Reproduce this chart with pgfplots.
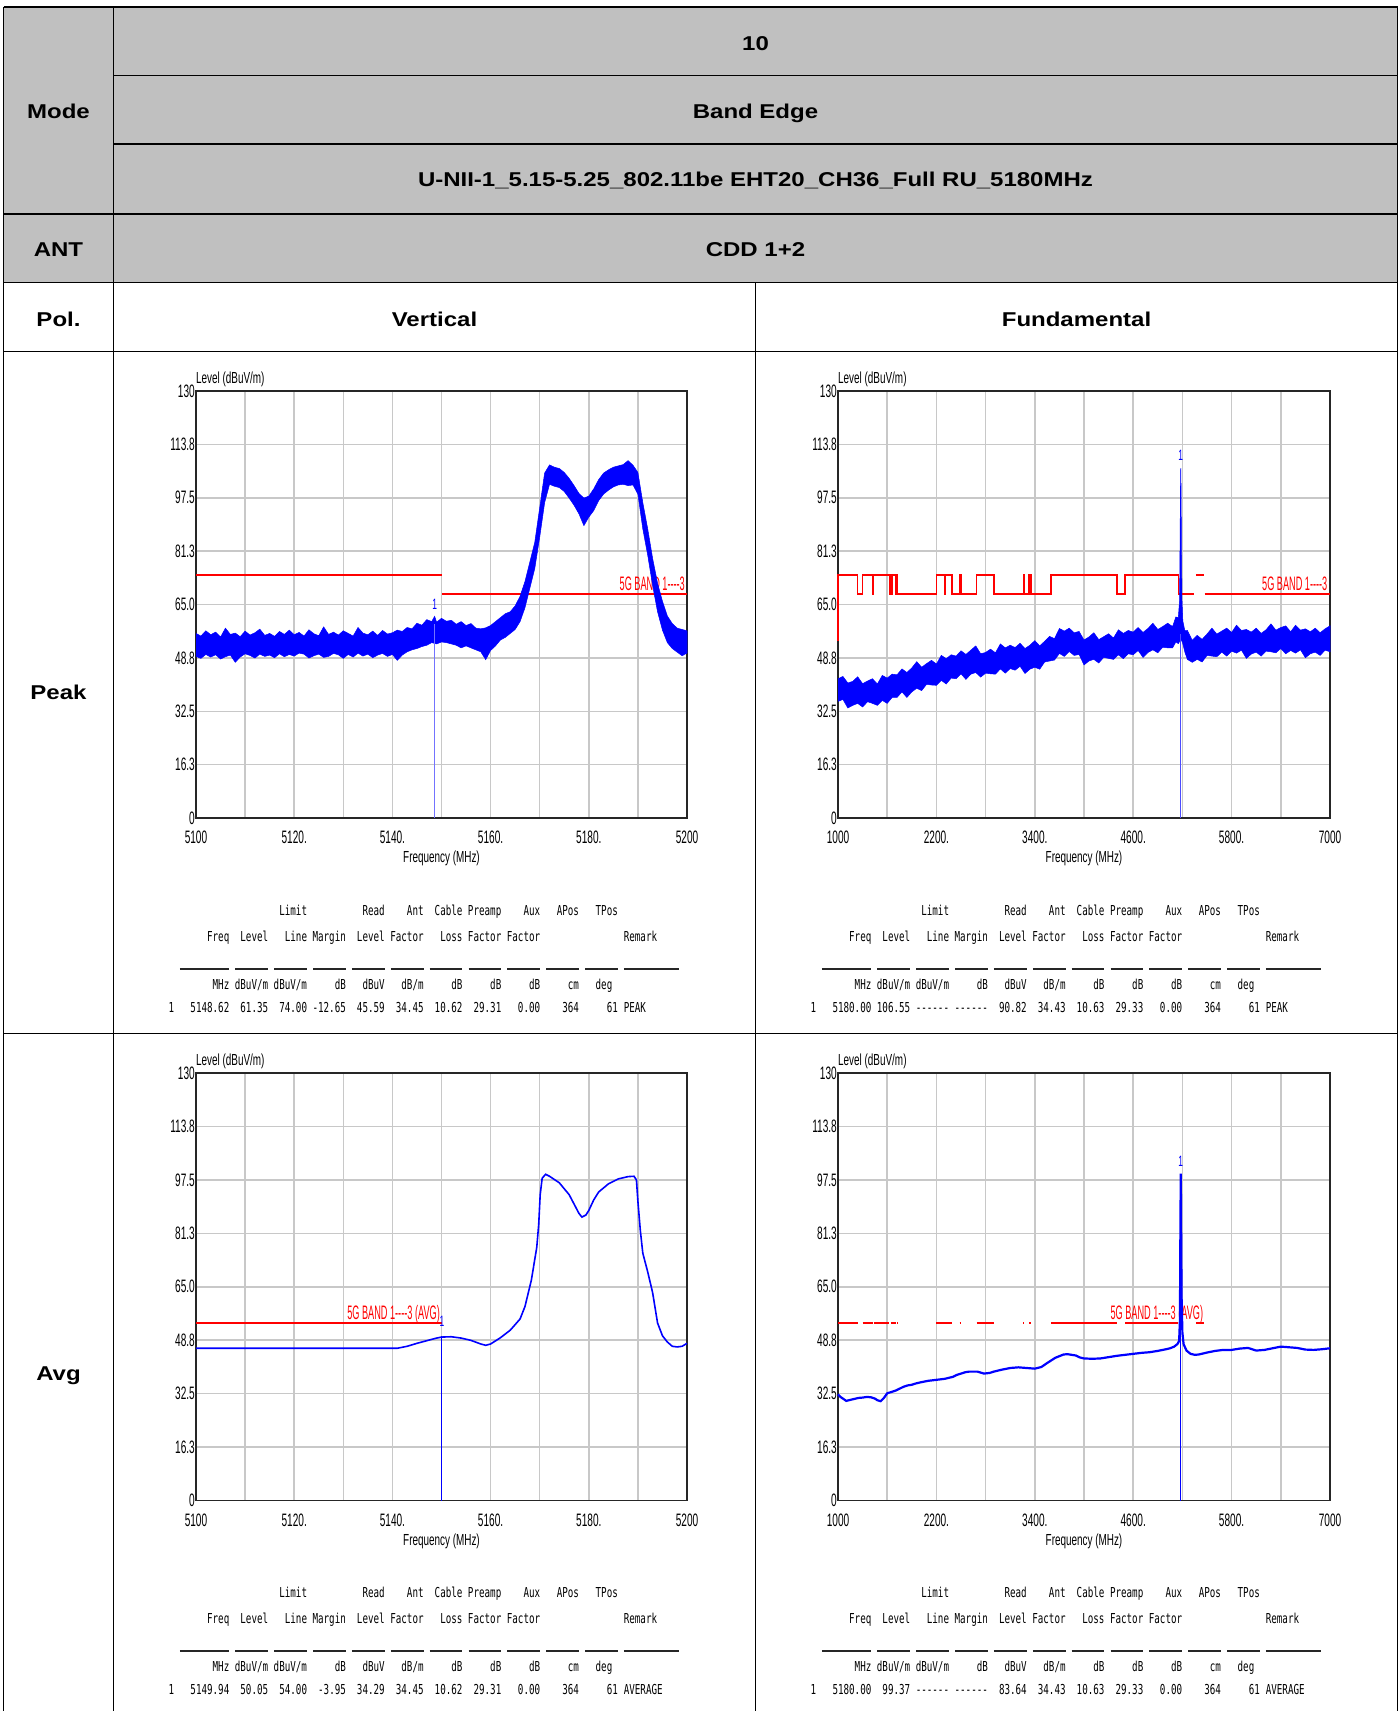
\documentclass[border=0pt]{standalone}
\usepackage{fontspec}
\setmainfont{Liberation Sans}[Ligatures=TeXOff]
\usepackage{pgfplots}
\pgfplotsset{compat=1.18}
\newfontfamily\hdrfont{Liberation Sans}[FakeStretch=1.2,Ligatures=TeXOff]
\newfontfamily\tickfont{Liberation Sans}[FakeStretch=0.56,Ligatures=TeXOff]
\newfontfamily\labfont{Liberation Sans}[FakeStretch=0.62,Ligatures=TeXOff]
\newfontfamily\redfont{Liberation Sans}[FakeStretch=0.47,Ligatures=TeXOff]
\newfontfamily\tabfont{DejaVu Sans Mono}[FakeStretch=0.673,Ligatures=TeXOff]
\definecolor{hdrgray}{RGB}{192,192,192}
\definecolor{gridgray}{RGB}{200,200,200}
\newcommand{\hdrfs}{\hdrfont\bfseries\fontsize{20}{22}\selectfont}
\newcommand{\tickfs}{\tickfont\fontsize{18}{18}\selectfont}
\newcommand{\labfs}{\labfont\fontsize{16}{16}\selectfont}
\newcommand{\redfs}{\redfont\fontsize{19.5}{20}\selectfont}
\newcommand{\tabfs}{\tabfont\fontsize{13.7}{14}\selectfont}
\newcommand{\mkfs}{\tickfont\fontsize{15}{15}\selectfont}
% table text helpers (inside scope with x=1pt,y=-1pt)
\newcommand{\R}[4]{\node[anchor=base east,inner sep=0pt,font=\tabfs] at ({#1+#2*5.55},{#3}) {#4};}
\newcommand{\Lf}[4]{\node[anchor=base west,inner sep=0pt,font=\tabfs] at ({#1+#2*5.55},{#3}) {#4};}
\newcommand{\datahead}[2]{%
  \foreach \e/\t in {25/Limit,39/Read,46/Ant,53/Cable,60/Preamp,67/Aux,74/APos,81/TPos}{\R{#1}{\e}{915.5+#2}{\t}}
  \foreach \e/\t in {11/Freq,18/Level,25/Line,32/Margin,39/Level,46/Factor,53/Loss,60/Factor,67/Factor}{\R{#1}{\e}{941+#2}{\t}}
  \Lf{#1}{82}{941+#2}{Remark}
  \foreach \s/\e in {2/11,12/18,19/25,26/32,33/39,40/46,47/53,54/60,61/67,68/74,75/81,82/92}{\draw[line width=1.3pt,black!85] ({#1+\s*5.55+0.3},{969+#2}) -- ({#1+\e*5.55-0.3},{969+#2});}
  \foreach \e/\t in {11/MHz,18/{dBuV/m},25/{dBuV/m},32/dB,39/dBuV,46/{dB/m},53/dB,60/dB,67/dB,74/cm,80/deg}{\R{#1}{\e}{989+#2}{\t}}
}
\pgfplotsset{
  emc/.style={
    scale only axis, ymin=0, ymax=130,
    ytick={0,16.25,32.5,48.75,65,81.25,97.5,113.75,130},
    yticklabels={0,16.3,32.5,48.8,65.0,81.3,97.5,113.8,130},
    grid=both,
    major grid style={draw=gridgray, line width=1.5pt},
    minor grid style={draw=gridgray, line width=1.5pt},
    major tick length=0pt, minor tick length=0pt,
    axis line style={draw=black!85, line width=1.8pt},
    ticklabel style={font=\tickfs, inner sep=0pt},
    yticklabel style={anchor=east, xshift=-1pt},
    xticklabel style={anchor=north, yshift=-13pt},
    clip=false,
    title={Level (dBuV/m)},
    title style={at={(axis description cs:0,1)}, anchor=base west, inner sep=0pt, yshift=1.5pt, font=\labfs},
    xlabel={Frequency (MHz)},
    xlabel style={at={(axis description cs:0.5,0)}, anchor=center, inner sep=0pt, yshift=-40.7pt, font=\labfs},
  },
  bandvert/.style={xmin=5100, xmax=5200, xtick={5100,5120,5140,5160,5180,5200},
    xticklabels={5100,5120.,5140.,5160.,5180.,5200}, minor xtick={5110,5130,5150,5170,5190}},
  bandfund/.style={xmin=1000, xmax=7000, xtick={1000,2200,3400,4600,5800,7000},
    xticklabels={1000,2200.,3400.,4600.,5800.,7000}, minor xtick={1600,2800,4000,5200,6400}},
}
\newcommand{\avglim}[2]{\addplot[red, line width=1.6pt] coordinates {(#1,54)(#2,54)};}
\begin{document}
\begin{tikzpicture}
\fill[white] (0pt,0pt) rectangle (1400pt,-1711pt);
\begin{scope}[x=1pt,y=-1pt]
\fill[hdrgray] (3.5,7) rectangle (1397.5,282.6);
\draw[line width=1.3pt] (3.5,7) -- (1397.5,7);
\draw[line width=1.3pt] (3.5,7) -- (3.5,1711);
\draw[line width=1.3pt] (1397.5,7) -- (1397.5,1711);
\draw[line width=1.3pt] (113.5,7) -- (113.5,1711);
\draw[line width=1.3pt] (113.5,75.3) -- (1397.5,75.3);
\draw[line width=1.3pt] (113.5,144) -- (1397.5,144);
\foreach \yy in {214,282.6,351.2,1033.4} {\draw[line width=1.3pt] (3.5,\yy) -- (1397.5,\yy);}
\draw[line width=1.3pt] (755.5,282.6) -- (755.5,1711);
% header texts
\node[anchor=base,inner sep=0pt,font=\hdrfs] at (58.5,118) {Mode};
\node[anchor=base,inner sep=0pt,font=\hdrfs] at (755.5,50.2) {10};
\node[anchor=base,inner sep=0pt,font=\hdrfs] at (755.5,118) {Band Edge};
\node[anchor=base,inner sep=0pt,font=\hdrfs] at (755.5,186.4) {U-NII-1\_5.15-5.25\_802.11be EHT20\_CH36\_Full RU\_5180MHz};
\node[anchor=base,inner sep=0pt,font=\hdrfs] at (58.5,256.8) {ANT};
\node[anchor=base,inner sep=0pt,font=\hdrfs] at (755.5,256.8) {CDD 1+2};
\node[anchor=base,inner sep=0pt,font=\hdrfs] at (58.5,326) {Pol.};
\node[anchor=base,inner sep=0pt,font=\hdrfs] at (434.5,326) {Vertical};
\node[anchor=base,inner sep=0pt,font=\hdrfs] at (1076.5,326) {Fundamental};
\node[anchor=base,inner sep=0pt,font=\hdrfs] at (58.5,699.3) {Peak};
\node[anchor=base,inner sep=0pt,font=\hdrfs] at (58.5,1380.5) {Avg};
% data tables
\datahead{168.5}{0}
\datahead{810.5}{0}
\datahead{168.5}{682}
\datahead{810.5}{682}
\Lf{168.5}{0}{1012}{1}
\foreach \e/\t in {11/5148.62,18/61.35,25/74.00,32/-12.65,39/45.59,46/34.45,53/10.62,60/29.31,67/0.00,74/364,81/61}{\R{168.5}{\e}{1012}{\t}}
\Lf{168.5}{82}{1012}{PEAK}
\Lf{810.5}{0}{1012}{1}
\foreach \e/\t in {11/5180.00,18/106.55,25/------,32/------,39/90.82,46/34.43,53/10.63,60/29.33,67/0.00,74/364,81/61}{\R{810.5}{\e}{1012}{\t}}
\Lf{810.5}{82}{1012}{PEAK}
\Lf{168.5}{0}{1694}{1}
\foreach \e/\t in {11/5149.94,18/50.05,25/54.00,32/-3.95,39/34.29,46/34.45,53/10.62,60/29.31,67/0.00,74/364,81/61}{\R{168.5}{\e}{1694}{\t}}
\Lf{168.5}{82}{1694}{AVERAGE}
\Lf{810.5}{0}{1694}{1}
\foreach \e/\t in {11/5180.00,18/99.37,25/------,32/------,39/83.64,46/34.43,53/10.63,60/29.33,67/0.00,74/364,81/61}{\R{810.5}{\e}{1694}{\t}}
\Lf{810.5}{82}{1694}{AVERAGE}
\end{scope}

% ---------------- Peak / Vertical ----------------
\begin{axis}[emc, bandvert, at={(196pt,-818pt)}, anchor=south west, width=491pt, height=427pt]
\addplot[red, line width=1.6pt] coordinates {(5100,74)(5150,74)};
\addplot[red, line width=1.6pt] coordinates {(5150.2,68.2)(5200,68.2)};
\node[anchor=base east, inner sep=0pt, text=red, font=\redfs] at (axis cs:5199.6,69.4) {5G BAND 1----3};
\addplot[draw=blue, fill=blue, line width=0.5pt] coordinates {
(5100,56.2)(5101,55.4)(5102,57.0)(5103,55.8)(5104,56.6)(5105,55.1)(5106,57.8)(5107,55.9)(5108,56.3)(5109,55.2)
(5110,56.9)(5111,55.7)(5112,56.4)(5113,57.5)(5114,55.6)(5115,56.2)(5116,55.3)(5117,56.8)(5118,55.9)(5119,57.2)
(5120,55.8)(5121,56.5)(5122,55.4)(5123,57.3)(5124,56.1)(5125,55.5)(5126,58.2)(5127,55.9)(5128,56.6)(5129,55.7)
(5130,57.0)(5131,56.2)(5132,55.4)(5133,58.0)(5134,56.3)(5135,55.8)(5136,56.9)(5137,55.6)(5138,57.1)(5139,56.0)
(5140,56.4)(5141,57.2)(5142,56.8)(5143,58.0)(5144,57.6)(5145,59.3)(5146,58.7)(5147,60.4)(5148,59.8)(5148.6,61.4)
(5149,59.6)(5150,60.8)(5151,59.9)(5152,60.2)(5153,59.0)(5154,59.8)(5155,58.6)(5156,59.2)(5157,57.8)(5158,57.6)
(5159,57.9)(5160,58.6)(5161,59.8)(5162,61.0)(5163,62.2)(5164,62.8)(5165,64.6)(5166,67.5)(5167,72.0)(5168,78.0)
(5169,84.0)(5170,94.5)(5171,105.0)(5172,107.5)(5173,106.8)(5174,106.4)(5175,105.2)(5176,103.4)(5177,101.2)(5178,98.8)
(5179,97.4)(5180,98.0)(5181,100.2)(5182,103.0)(5183,105.0)(5184,106.0)(5185,106.8)(5186,107.2)(5187,107.6)(5188,108.8)
(5189,107.4)(5190,105.2)(5191,96.0)(5192,88.0)(5193,79.0)(5194,71.5)(5195,66.0)(5196,61.5)(5197,59.2)(5198,57.8)
(5199,57.4)(5200,57.0)
(5200,50.2)(5199,49.4)(5198,50.5)(5197,51.6)(5196,53.4)(5195,57.2)(5194,62.8)(5193,70.8)(5192,80.0)(5191,88.0)
(5190,98.6)(5189,101.4)(5188,101.2)(5187,101.6)(5186,101.4)(5185,100.8)(5184,99.8)(5183,98.6)(5182,96.6)(5181,93.6)
(5180,91.6)(5179,89.0)(5178,92.6)(5177,95.2)(5176,97.4)(5175,99.4)(5174,100.6)(5173,101.0)(5172,101.6)(5171,96.0)
(5170,85.5)(5169,76.0)(5168,70.0)(5167,64.0)(5166,59.8)(5165,57.4)(5164,56.2)(5163,55.0)(5162,54.2)(5161,52.4)
(5160,51.0)(5159,48.2)(5158,50.6)(5157,51.2)(5156,51.8)(5155,52.4)(5154,51.8)(5153,52.6)(5152,53.0)(5151,53.4)
(5150,53.6)(5149,53.0)(5148,53.4)(5147,52.6)(5146,52.2)(5145,51.6)(5144,51.2)(5143,50.6)(5142,49.6)(5141,48.0)
(5140,49.8)(5139,49.2)(5138,50.1)(5137,49.6)(5136,48.8)(5135,49.9)(5134,49.3)(5133,50.2)(5132,49.0)(5131,49.8)
(5130,48.6)(5129,49.7)(5128,50.1)(5127,49.2)(5126,48.9)(5125,49.9)(5124,49.4)(5123,48.7)(5122,49.9)(5121,50.2)
(5120,49.3)(5119,49.8)(5118,49.1)(5117,50.0)(5116,48.8)(5115,49.6)(5114,49.2)(5113,49.9)(5112,48.7)(5111,49.5)
(5110,50.0)(5109,49.0)(5108,47.4)(5107,49.6)(5106,49.1)(5105,48.4)(5104,49.7)(5103,49.0)(5102,49.8)(5101,48.6)
(5100,49.2)
};
\addplot[blue!55, line width=1.2pt] coordinates {(5148.62,0)(5148.62,59)};
\node[text=blue, font=\mkfs, inner sep=0pt] at (axis cs:5148.62,65) {1};
\end{axis}

% ---------------- Peak / Fundamental ----------------
\begin{axis}[emc, bandfund, at={(838pt,-818pt)}, anchor=south west, width=492pt, height=427pt]
\addplot[red, line width=1.6pt] coordinates {(1000,54)(1000,74)(1240,74)(1240,68.2)(1300,68.2)(1300,74)(1427,74)(1427,68.2)(1435,68.2)(1435,74)(1626.5,74)(1626.5,68.2)(1645.5,68.2)(1645.5,74)(1646.5,74)(1646.5,68.2)(1660,68.2)(1660,74)(1710,74)(1710,68.2)(1718.8,68.2)(1718.8,74)(1722.2,74)(1722.2,68.2)(2200,68.2)(2200,74)(2300,74)(2300,68.2)(2310,68.2)(2310,74)(2390,74)(2390,68.2)(2483.5,68.2)(2483.5,74)(2500,74)(2500,68.2)(2690,68.2)(2690,74)(2900,74)(2900,68.2)(3260,68.2)(3260,74)(3267,74)(3267,68.2)(3332,68.2)(3332,74)(3339,74)(3339,68.2)(3345.8,68.2)(3345.8,74)(3358,74)(3358,68.2)(3600,68.2)(3600,74)(4400,74)(4400,68.2)(4500,68.2)(4500,74)(5150,74)(5150,68.2)(5340,68.2)};
\addplot[red, line width=1.6pt] coordinates {(5365,74)(5460,74)};
\addplot[red, line width=1.6pt] coordinates {(5470,68.2)(7000,68.2)};
\node[anchor=base east, inner sep=0pt, text=red, font=\redfs] at (axis cs:6970,69.4) {5G BAND 1----3};
\addplot[draw=blue, fill=blue, line width=0.5pt] coordinates {
(1000,42.4)(1060,43.1)(1120,41.1)(1180,41.6)(1240,43.0)(1300,40.9)(1360,41.7)(1420,42.4)(1480,40.8)(1540,43.4)
(1600,42.6)(1660,43.8)(1720,43.6)(1780,45.4)(1840,44.3)(1900,45.7)(1960,47.6)(2020,45.9)(2080,47.0)(2140,48.0)
(2200,46.9)(2260,49.5)(2320,48.5)(2380,49.7)(2440,49.3)(2500,50.9)(2560,49.8)(2620,51.1)(2680,52.4)(2740,50.0)
(2800,50.4)(2860,51.4)(2920,50.3)(2980,53.0)(3040,51.8)(3100,52.6)(3160,51.9)(3220,53.2)(3280,51.6)(3340,52.6)
(3400,54.0)(3460,52.4)(3520,53.8)(3580,55.3)(3640,54.6)(3700,57.7)(3760,56.9)(3820,57.8)(3880,56.4)(3940,56.8)
(4000,54.2)(4060,55.1)(4120,56.4)(4180,54.3)(4240,55.2)(4300,56.1)(4360,54.8)(4420,57.3)(4480,56.2)(4540,57.1)
(4600,56.6)(4660,58.0)(4720,56.5)(4780,57.7)(4840,59.3)(4900,57.4)(4960,58.3)(5020,59.3)(5080,58.3)(5120,61.2)
(5150,61.0)(5165,66)(5172,85)(5176,100)(5180,106.55)(5184,100)(5188,82)(5195,66)(5205,60)(5230,57.0)
(5260,57.1)(5320,54.1)(5380,55.6)(5440,54.4)(5500,56.0)(5560,57.8)(5620,56.0)(5680,56.9)(5740,57.8)(5800,56.5)
(5860,58.7)(5920,57.1)(5980,57.4)(6040,56.6)(6100,57.8)(6160,56.2)(6220,57.3)(6280,59.1)(6340,57.2)(6400,58.0)
(6460,58.5)(6520,56.7)(6580,58.7)(6640,57.2)(6700,57.6)(6760,56.7)(6820,57.8)(6880,56.4)(6940,57.6)(7000,58.5)
(7000,50.6)(6940,51.1)(6880,49.5)(6820,50.5)(6760,50.0)(6700,48.8)(6640,51.2)(6580,50.2)(6520,51.0)(6460,50.0)
(6400,51.6)(6340,50.3)(6280,50.6)(6220,50.8)(6160,49.3)(6100,50.5)(6040,49.9)(5980,48.6)(5920,51.1)(5860,50.2)
(5800,50.8)(5740,49.3)(5680,50.5)(5620,49.1)(5560,49.3)(5500,49.5)(5440,47.5)(5380,48.3)(5320,47.4)(5260,48.3)
(5230,50.5)(5200,53.5)(5180,54.5)(5160,53.5)(5150,53.1)(5120,53.6)(5080,51.8)(5020,51.8)(4960,52.0)(4900,50.3)
(4840,51.2)(4780,50.4)(4720,48.9)(4660,51.0)(4600,49.7)(4540,50.0)(4480,48.5)(4420,49.7)(4360,48.3)(4300,48.6)
(4240,48.9)(4180,47.2)(4120,48.3)(4060,47.8)(4000,46.6)(3940,49.8)(3880,49.5)(3820,50.7)(3760,49.2)(3700,50.1)
(3640,48.1)(3580,47.8)(3520,47.5)(3460,45.3)(3400,45.9)(3340,45.3)(3280,44.0)(3220,46.2)(3160,45.0)(3100,45.5)
(3040,44.1)(2980,45.4)(2920,43.8)(2860,43.9)(2800,44.1)(2740,42.9)(2680,44.3)(2620,43.8)(2560,42.2)(2500,43.9)
(2440,42.4)(2380,42.6)(2320,40.8)(2260,41.9)(2200,40.4)(2140,40.5)(2080,40.7)(2020,38.8)(1960,39.5)(1900,38.4)
(1840,36.7)(1780,38.4)(1720,36.7)(1660,36.7)(1600,34.9)(1540,35.8)(1480,34.3)(1420,34.9)(1360,35.4)(1300,33.8)
(1240,34.9)(1180,34.3)(1120,33.5)(1060,36.1)(1000,35.5)
};
\addplot[blue!70, line width=1.2pt] coordinates {(5180,0)(5180,56)};
\node[text=blue, font=\mkfs, inner sep=0pt] at (axis cs:5180,110.5) {1};
\end{axis}

% ---------------- Avg / Vertical ----------------
\begin{axis}[emc, bandvert, at={(196pt,-1500.5pt)}, anchor=south west, width=491pt, height=427.5pt]
\addplot[red, line width=1.6pt] coordinates {(5100,54)(5150,54)};
\node[anchor=base east, inner sep=0pt, text=red, font=\redfs] at (axis cs:5149.7,55.1) {5G BAND 1----3 (AVG)};
\addplot[blue, line width=1.6pt] coordinates {
(5100,46.3)(5110,46.3)(5120,46.3)(5130,46.3)(5141,46.3)(5143,46.9)(5145,47.8)(5147,48.6)(5149,49.4)(5150,49.7)
(5152,49.8)(5154,49.4)(5156,48.7)(5158,47.6)(5159,47.2)(5160,47.6)(5162,49.5)(5164,51.8)(5166,55.2)(5167,59.0)
(5168.3,67.0)(5169.4,77.0)(5169.8,84.0)(5170.1,93.0)(5170.5,98.0)(5171.2,99.2)(5172,98.6)(5174,96.6)(5176,93.0)(5178,87.3)
(5178.6,86.2)(5179.4,86.8)(5180,88.2)(5181,91.4)(5182,93.8)(5184,96.3)(5186,97.8)(5188,98.5)(5189.2,98.6)(5189.7,97.5)
(5190,91.0)(5190.5,82.0)(5191,75.2)(5192,69.5)(5193,63.2)(5194,54.0)(5195,50.1)(5196,48.2)(5197,46.9)(5198,46.7)
(5199,46.9)(5200,47.8)
};
\addplot[blue, line width=0.9pt] coordinates {(5149.94,0)(5149.94,50)};
\node[text=blue, font=\mkfs, inner sep=0pt] at (axis cs:5150.1,54.5) {1};
\end{axis}

% ---------------- Avg / Fundamental ----------------
\begin{axis}[emc, bandfund, at={(838pt,-1500.5pt)}, anchor=south west, width=492pt, height=427.5pt]
\avglim{1000}{1240}\avglim{1300}{1427}\avglim{1435}{1626.5}\avglim{1645.5}{1646.5}
\avglim{1660}{1710}\avglim{1718.8}{1722.2}\avglim{2200}{2300}\avglim{2310}{2390}
\avglim{2483.5}{2500}\avglim{2690}{2900}\avglim{3260}{3267}\avglim{3332}{3339}
\avglim{3345.8}{3358}\avglim{3600}{4400}\avglim{4500}{5150}\avglim{5365}{5460}
\node[anchor=base east, inner sep=0pt, text=red, font=\redfs] at (axis cs:5455,55.1) {5G BAND 1----3 (AVG)};
\addplot[blue, line width=2.2pt] coordinates {
(1000,32.3)(1030,31.5)(1060,31.0)(1100,30.3)(1150,30.6)(1200,30.9)(1250,31.2)(1300,31.3)(1350,31.5)(1400,31.4)
(1450,31.0)(1480,30.5)(1520,30.2)(1560,31.2)(1600,32.6)(1650,33.0)(1700,33.4)(1750,34.0)(1800,34.6)(1850,35.0)
(1900,35.2)(1950,35.6)(2000,35.9)(2100,36.4)(2200,36.7)(2300,37.0)(2400,37.6)(2450,38.2)(2500,38.6)(2550,39.0)
(2600,39.2)(2700,39.2)(2780,38.6)(2850,38.8)(2900,39.2)(3000,39.8)(3100,40.3)(3200,40.5)(3300,40.3)(3400,40.1)
(3480,40.6)(3550,41.8)(3600,42.6)(3650,43.4)(3700,43.9)(3750,44.4)(3800,44.5)(3850,44.3)(3900,44.1)(3950,43.5)
(4000,43.2)(4100,43.1)(4200,43.2)(4300,43.6)(4400,44.0)(4500,44.3)(4600,44.6)(4700,44.9)(4800,45.1)(4900,45.5)
(5000,46.0)(5050,46.3)(5100,46.8)(5140,47.6)(5160,48.5)(5170,55)(5175,80)(5180,99.37)(5185,80)(5190,62)
(5200,51)(5215,47.5)(5250,45.6)(5300,44.6)(5350,44.3)(5400,44.4)(5500,45.0)(5600,45.5)(5700,45.8)(5800,45.8)
(5900,46.2)(6000,46.4)(6050,46.0)(6100,45.6)(6200,45.8)(6300,46.3)(6400,46.8)(6500,46.6)(6600,46.4)(6700,45.9)
(6800,45.8)(6900,46.0)(7000,46.3)
};
\addplot[blue, line width=0.9pt] coordinates {(5180,0)(5180,98)};
\node[text=blue, font=\mkfs, inner sep=0pt] at (axis cs:5180,103) {1};
\end{axis}
\pgfresetboundingbox
\useasboundingbox (0pt,0pt) rectangle (1400pt,-1711pt);
\end{tikzpicture}
\end{document}
